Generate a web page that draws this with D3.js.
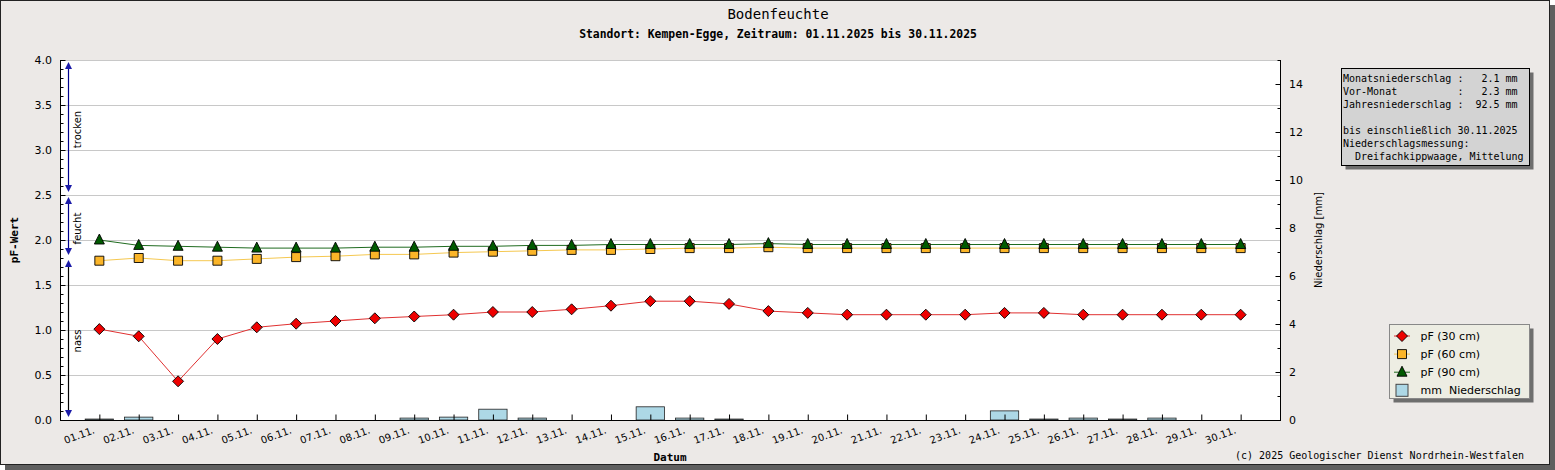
<!DOCTYPE html>
<html>
<head>
<meta charset="utf-8">
<script src="https://cdn.jsdelivr.net/npm/d3@7"></script>
<style>
	body { margin: 0; background: #fff; }
	text { white-space: pre; }
</style>
</head>
<body>
<svg id="chart" width="1555" height="470"></svg>
<script>
const days = ['01.11.', '02.11.', '03.11.', '04.11.', '05.11.', '06.11.', '07.11.', '08.11.', '09.11.', '10.11.',
	'11.11.', '12.11.', '13.11.', '14.11.', '15.11.', '16.11.', '17.11.', '18.11.', '19.11.', '20.11.',
	'21.11.', '22.11.', '23.11.', '24.11.', '25.11.', '26.11.', '27.11.', '28.11.', '29.11.', '30.11.'];

const pf30 = [1.01, 0.93, 0.43, 0.90, 1.03, 1.07, 1.10, 1.13, 1.15, 1.17,
	1.20, 1.20, 1.23, 1.27, 1.32, 1.32, 1.29, 1.21, 1.19, 1.17,
	1.17, 1.17, 1.17, 1.19, 1.19, 1.17, 1.17, 1.17, 1.17, 1.17];

const pf60 = [1.77, 1.80, 1.77, 1.77, 1.79, 1.81, 1.82, 1.84, 1.84, 1.86,
	1.87, 1.88, 1.89, 1.89, 1.90, 1.91, 1.91, 1.92, 1.91, 1.91,
	1.91, 1.91, 1.91, 1.91, 1.91, 1.91, 1.91, 1.91, 1.91, 1.91];

const pf90 = [2.00, 1.94, 1.93, 1.92, 1.91, 1.91, 1.91, 1.92, 1.92, 1.93,
	1.93, 1.94, 1.94, 1.95, 1.95, 1.95, 1.95, 1.96, 1.95, 1.95,
	1.95, 1.95, 1.95, 1.95, 1.95, 1.95, 1.95, 1.95, 1.95, 1.95];

const rain = [0.04, 0.12, 0, 0, 0, 0, 0, 0, 0.08, 0.12,
	0.45, 0.08, 0, 0, 0.55, 0.08, 0.04, 0, 0, 0,
	0, 0, 0, 0.38, 0.04, 0.08, 0.04, 0.08, 0, 0];

const pfTicks = [0, 0.5, 1.0, 1.5, 2.0, 2.5, 3.0, 3.5, 4.0];
const mmTicks = [0, 2, 4, 6, 8, 10, 12, 14];

const zones = [
	{ label: 'trocken', from: 2.5, to: 4.0, line: '#00008b' },
	{ label: 'feucht', from: 1.8, to: 2.5, line: '#00008b' },
	{ label: 'nass', from: 0, to: 1.8, line: '#000' },
];

const infoLines = [
	'Monatsniederschlag :   2.1 mm',
	'Vor-Monat          :   2.3 mm',
	'Jahresniederschlag :  92.5 mm',
	'',
	'bis einschließlich 30.11.2025',
	'Niederschlagsmessung:',
	'  Dreifachkippwaage, Mittelung',
];

const series = [
	{ name: 'pF (30 cm)', values: pf30, line: '#e03030', fill: '#ee0000', shape: 'diamond', size: 11 },
	{ name: 'pF (60 cm)', values: pf60, line: '#f5c850', fill: '#fbb528', shape: 'square', size: 9 },
	{ name: 'pF (90 cm)', values: pf90, line: '#1f6b1f', fill: '#005a00', shape: 'triangle', size: 10 },
];

const mono = 'DejaVu Sans Mono';
const sans = 'DejaVu Sans';

const W = 1555, H = 470;
const plot = { left: 60, right: 1280, top: 60, bottom: 420 };

const svg = d3.select('#chart');

// frame with shadow
svg.append('rect').attr('x', 5).attr('y', 5).attr('width', W - 5).attr('height', H - 5).attr('fill', '#5f5f5f');
svg.append('rect')
	.attr('x', 0.5).attr('y', 0.5)
	.attr('width', W - 6).attr('height', H - 6)
	.attr('fill', '#ece9e7')
	.attr('stroke', '#222');

const x = d3.scaleLinear().domain([0, days.length + 1]).range([plot.left, plot.right]);
const y = d3.scaleLinear().domain([0, 4]).range([plot.bottom, plot.top]);
const y2 = d3.scaleLinear().domain([0, 15]).range([plot.bottom, plot.top]);

svg.append('rect')
	.attr('x', plot.left).attr('y', plot.top)
	.attr('width', plot.right - plot.left).attr('height', plot.bottom - plot.top)
	.attr('fill', '#fff');

// grid
svg.append('g')
	.selectAll('line')
	.data(pfTicks.filter(d => d > 0))
	.join('line')
	.attr('x1', plot.left).attr('x2', plot.right)
	.attr('y1', d => Math.round(y(d)) + 0.5).attr('y2', d => Math.round(y(d)) + 0.5)
	.attr('stroke', '#c8c8c8');

// precipitation bars
const slot = x(1) - x(0);
svg.append('g')
	.selectAll('rect')
	.data(rain.map((v, i) => ({ v, i })).filter(d => d.v > 0))
	.join('rect')
	.attr('x', d => x(d.i + 1) - slot * 0.36)
	.attr('width', slot * 0.72)
	.attr('y', d => y2(d.v))
	.attr('height', d => y2(0) - y2(d.v))
	.attr('fill', '#add8e6')
	.attr('stroke', '#222')
	.attr('stroke-width', 0.8);

// left axis
const yAxis = d3.axisRight(y).tickValues(pfTicks).tickSize(5).tickFormat('');
const gY = svg.append('g').attr('transform', `translate(${plot.left + 0.5},0)`).call(yAxis);
gY.select('.domain').remove();
gY.append('line').attr('y1', plot.top).attr('y2', plot.bottom).attr('stroke', '#000');
gY.selectAll('.minor')
	.data(d3.range(0, 40).map(d => d / 10).filter(d => !pfTicks.includes(d)))
	.join('line')
	.attr('x2', 3)
	.attr('y1', d => Math.round(y(d)) + 0.5).attr('y2', d => Math.round(y(d)) + 0.5)
	.attr('stroke', '#000');
svg.append('g')
	.selectAll('text')
	.data(pfTicks)
	.join('text')
	.attr('x', plot.left - 8)
	.attr('y', d => y(d) + 4)
	.attr('text-anchor', 'end')
	.attr('font-family', sans)
	.attr('font-size', 11)
	.text(d => d.toFixed(1));

// right axis
const y2Axis = d3.axisLeft(y2).tickValues(mmTicks).tickSize(5).tickFormat('');
const gY2 = svg.append('g').attr('transform', `translate(${plot.right + 0.5},0)`).call(y2Axis);
gY2.select('.domain').remove();
gY2.append('line').attr('y1', plot.top).attr('y2', plot.bottom).attr('stroke', '#000');
gY2.selectAll('.minor')
	.data(d3.range(1, 16, 2))
	.join('line')
	.attr('x2', -3)
	.attr('y1', d => Math.round(y2(d)) + 0.5).attr('y2', d => Math.round(y2(d)) + 0.5)
	.attr('stroke', '#000');
svg.append('g')
	.selectAll('text')
	.data(mmTicks)
	.join('text')
	.attr('x', plot.right + 9)
	.attr('y', d => y2(d) + 4)
	.attr('font-family', sans)
	.attr('font-size', 11)
	.text(d => d);

// x axis
const xAxis = d3.axisTop(x).tickValues(d3.range(1, days.length + 1)).tickSize(6).tickFormat('');
const gX = svg.append('g').attr('transform', `translate(0,${plot.bottom + 0.5})`).call(xAxis);
gX.select('.domain').remove();
gX.append('line').attr('x1', plot.left).attr('x2', plot.right + 1).attr('stroke', '#000');
svg.append('g')
	.selectAll('text')
	.data(days)
	.join('text')
	.attr('transform', (d, i) => `translate(${x(i + 1) - 4},${plot.bottom + 13}) rotate(-20)`)
	.attr('text-anchor', 'end')
	.attr('font-family', sans)
	.attr('font-size', 10)
	.text(d => d);

// moisture zones
const zoneX = plot.left + 8.5;
zones.forEach(z => {
	const top = y(z.to) + 2;
	const bot = y(z.from) - 3;
	svg.append('line')
		.attr('x1', zoneX).attr('x2', zoneX)
		.attr('y1', top + 4).attr('y2', bot - 4)
		.attr('stroke', z.line)
		.attr('stroke-width', 1.2);
	svg.append('path')
		.attr('d', `M${zoneX},${top} l-3.5,7 h7 Z`)
		.attr('fill', '#1a1aa8');
	svg.append('path')
		.attr('d', `M${zoneX},${bot} l-3.5,-7 h7 Z`)
		.attr('fill', '#1a1aa8');
	svg.append('text')
		.attr('transform', `translate(${zoneX + 12.5},${(y(z.from) + y(z.to)) / 2 + 2}) rotate(-90)`)
		.attr('text-anchor', 'middle')
		.attr('font-family', sans)
		.attr('font-size', 10)
		.text(z.label);
});

// markers
function marker(sel, shape, size) {
	const s = size / 2;
	if (shape == 'diamond') {
		return sel.attr('d', `M0,${-s} L${s},0 L0,${s} L${-s},0 Z`);
	} else if (shape == 'square') {
		return sel.attr('d', `M${-s},${-s} h${size} v${size} h${-size} Z`);
	}
	return sel.attr('d', `M0,${-s - 1} L${s},${s - 1} L${-s},${s - 1} Z`);
}

const line = d3.line().x((d, i) => x(i + 1)).y(d => y(d));

series.forEach(s => {
	svg.append('path')
		.attr('d', line(s.values))
		.attr('fill', 'none')
		.attr('stroke', s.line)
		.attr('stroke-width', 1);
});
series.forEach(s => {
	svg.append('g')
		.selectAll('path')
		.data(s.values)
		.join('path')
		.attr('transform', (d, i) => `translate(${x(i + 1)},${y(d)})`)
		.call(marker, s.shape, s.size)
		.attr('fill', s.fill)
		.attr('stroke', '#000')
		.attr('stroke-width', 0.9);
});

// titles
svg.append('text')
	.attr('x', 778).attr('y', 19)
	.attr('text-anchor', 'middle')
	.attr('font-family', mono)
	.attr('font-size', 14)
	.text('Bodenfeuchte');
svg.append('text')
	.attr('x', 778).attr('y', 38)
	.attr('text-anchor', 'middle')
	.attr('font-family', mono)
	.attr('font-weight', 'bold')
	.attr('font-size', 11.4)
	.text('Standort: Kempen-Egge, Zeitraum: 01.11.2025 bis 30.11.2025');

svg.append('text')
	.attr('transform', `translate(18,${(plot.top + plot.bottom) / 2}) rotate(-90)`)
	.attr('text-anchor', 'middle')
	.attr('font-family', mono)
	.attr('font-weight', 'bold')
	.attr('font-size', 11)
	.text('pF-Wert');
svg.append('text')
	.attr('transform', `translate(1322,${(plot.top + plot.bottom) / 2}) rotate(-90)`)
	.attr('text-anchor', 'middle')
	.attr('font-family', sans)
	.attr('font-size', 10)
	.text('Niederschlag [mm]');
svg.append('text')
	.attr('x', (plot.left + plot.right) / 2).attr('y', 461)
	.attr('text-anchor', 'middle')
	.attr('font-family', mono)
	.attr('font-weight', 'bold')
	.attr('font-size', 11)
	.text('Datum');
svg.append('text')
	.attr('x', 1524).attr('y', 459)
	.attr('text-anchor', 'end')
	.attr('font-family', mono)
	.attr('font-size', 10)
	.text('(c) 2025 Geologischer Dienst Nordrhein-Westfalen');

// info box
const info = { x: 1341.5, y: 68.5, w: 188, h: 97 };
svg.append('rect')
	.attr('x', info.x + 4).attr('y', info.y + 4).attr('width', info.w).attr('height', info.h)
	.attr('fill', '#6e6e6e');
svg.append('rect')
	.attr('x', info.x).attr('y', info.y).attr('width', info.w).attr('height', info.h)
	.attr('fill', '#d3d3d3')
	.attr('stroke', '#000');
svg.append('g')
	.selectAll('text')
	.data(infoLines)
	.join('text')
	.attr('x', info.x + 1.5)
	.attr('y', (d, i) => info.y + 13 + i * 13.1)
	.attr('font-family', mono)
	.attr('font-size', 10)
	.text(d => d);

// legend
const leg = { x: 1389.5, y: 324.5, w: 140, h: 74 };
svg.append('rect')
	.attr('x', leg.x + 4).attr('y', leg.y + 4).attr('width', leg.w).attr('height', leg.h)
	.attr('fill', '#6e6e6e');
svg.append('rect')
	.attr('x', leg.x).attr('y', leg.y).attr('width', leg.w).attr('height', leg.h)
	.attr('fill', '#ededE3')
	.attr('stroke', '#888');
const legItems = series.map(s => s.name).concat(['mm  Niederschlag']);
legItems.forEach((name, i) => {
	const ly = leg.y + 11.5 + i * 18.1;
	const mx = leg.x + 12.5;
	const s = series[i];
	if (s) {
		svg.append('line')
			.attr('x1', mx - 8).attr('x2', mx + 8)
			.attr('y1', ly).attr('y2', ly)
			.attr('stroke', s.line);
		svg.append('path')
			.attr('transform', `translate(${mx},${ly})`)
			.call(marker, s.shape, s.size)
			.attr('fill', s.fill)
			.attr('stroke', '#000')
			.attr('stroke-width', 0.9);
	} else {
		svg.append('rect')
			.attr('x', mx - 6).attr('y', ly - 6).attr('width', 12).attr('height', 12)
			.attr('fill', '#add8e6')
			.attr('stroke', '#444');
	}
	svg.append('text')
		.attr('x', leg.x + 31)
		.attr('y', ly + 4)
		.attr('font-family', sans)
		.attr('font-size', 11)
		.text(name);
});
</script>
</body>
</html>
